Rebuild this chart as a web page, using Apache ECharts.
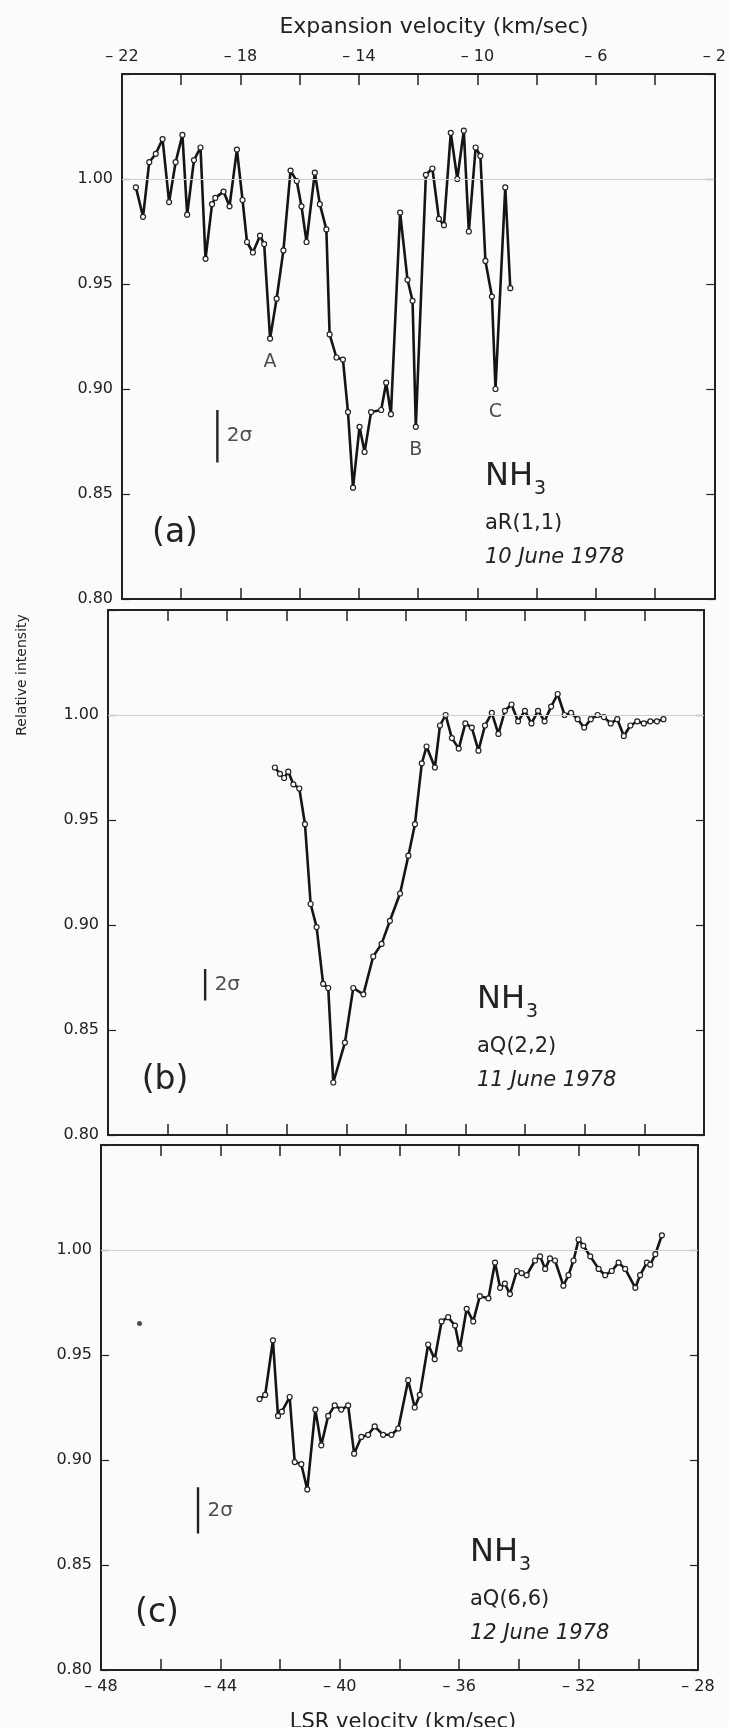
<!DOCTYPE html>
<html>
<head>
<meta charset="utf-8">
<script src="https://cdn.jsdelivr.net/npm/echarts@6/dist/echarts.min.js"></script>
<style>
  html, body { margin: 0; padding: 0; background: #fbfbfa; overflow: hidden; }
  #main { width: 729px; height: 1727px; }
</style>
</head>
<body>
<div id="main"></div>
<script>
// LSR velocity (km/sec) and relative intensity, one pair of arrays per panel
var aVel = [-47.53,-47.29,-47.08,-46.86,-46.63,-46.41,-46.19,-45.96,-45.80,-45.57,-45.35,-45.18,-44.96,-44.85,-44.57,-44.37,-44.12,-43.93,-43.78,-43.58,-43.34,-43.20,-43.00,-42.78,-42.55,-42.31,-42.10,-41.94,-41.77,-41.49,-41.32,-41.10,-40.99,-40.76,-40.54,-40.37,-40.20,-39.98,-39.81,-39.59,-39.25,-39.08,-38.92,-38.61,-38.36,-38.19,-38.08,-37.74,-37.52,-37.30,-37.13,-36.90,-36.68,-36.46,-36.29,-36.06,-35.90,-35.73,-35.51,-35.39,-35.06,-34.89];
var aInt = [0.996,0.982,1.008,1.012,1.019,0.989,1.008,1.021,0.983,1.009,1.015,0.962,0.988,0.991,0.994,0.987,1.014,0.990,0.970,0.965,0.973,0.969,0.924,0.943,0.966,1.004,0.999,0.987,0.970,1.003,0.988,0.976,0.926,0.915,0.914,0.889,0.853,0.882,0.870,0.889,0.890,0.903,0.888,0.984,0.952,0.942,0.882,1.002,1.005,0.981,0.978,1.022,1.000,1.023,0.975,1.015,1.011,0.961,0.944,0.900,0.996,0.948];

var bVel = [-42.40,-42.23,-42.09,-41.95,-41.78,-41.58,-41.39,-41.20,-41.00,-40.78,-40.61,-40.44,-40.05,-39.77,-39.43,-39.10,-38.82,-38.54,-38.20,-37.92,-37.70,-37.47,-37.31,-37.03,-36.86,-36.67,-36.46,-36.23,-36.01,-35.79,-35.57,-35.35,-35.12,-34.90,-34.68,-34.46,-34.24,-34.01,-33.79,-33.57,-33.35,-33.13,-32.91,-32.68,-32.46,-32.24,-32.02,-31.80,-31.57,-31.36,-31.13,-30.91,-30.69,-30.47,-30.24,-30.02,-29.80,-29.58,-29.36];
var bInt = [0.975,0.972,0.970,0.973,0.967,0.965,0.948,0.910,0.899,0.872,0.870,0.825,0.844,0.870,0.867,0.885,0.891,0.902,0.915,0.933,0.948,0.977,0.985,0.975,0.995,1.000,0.989,0.984,0.996,0.994,0.983,0.995,1.001,0.991,1.002,1.005,0.997,1.002,0.996,1.002,0.997,1.004,1.010,1.000,1.001,0.998,0.994,0.998,1.000,0.999,0.996,0.998,0.990,0.995,0.997,0.996,0.997,0.997,0.998];

var cVel = [-42.69,-42.50,-42.24,-42.07,-41.94,-41.68,-41.51,-41.29,-41.09,-40.82,-40.62,-40.39,-40.17,-39.95,-39.72,-39.52,-39.28,-39.05,-38.83,-38.55,-38.27,-38.04,-37.71,-37.49,-37.32,-37.04,-36.82,-36.59,-36.37,-36.14,-35.98,-35.75,-35.53,-35.31,-35.02,-34.80,-34.63,-34.47,-34.30,-34.07,-33.91,-33.74,-33.46,-33.29,-33.12,-32.96,-32.79,-32.51,-32.34,-32.17,-32.00,-31.84,-31.61,-31.33,-31.11,-30.89,-30.66,-30.44,-30.10,-29.94,-29.71,-29.60,-29.43,-29.21];
var cInt = [0.929,0.931,0.957,0.921,0.923,0.930,0.899,0.898,0.886,0.924,0.907,0.921,0.926,0.924,0.926,0.903,0.911,0.912,0.916,0.912,0.912,0.915,0.938,0.925,0.931,0.955,0.948,0.966,0.968,0.964,0.953,0.972,0.966,0.978,0.977,0.994,0.982,0.984,0.979,0.990,0.989,0.988,0.995,0.997,0.991,0.996,0.995,0.983,0.988,0.995,1.005,1.002,0.997,0.991,0.988,0.990,0.994,0.991,0.982,0.988,0.994,0.993,0.998,1.007];
var cStray = [[-46.71, 0.965]];

// labelled absorption features in panel (a)
var featNames = ['A', 'B', 'C'];
var featVel = [-43.00, -38.08, -35.39];
var featInt = [0.924, 0.882, 0.900];

// 2 sigma bars: velocity, low, high (one per panel)
var sigVel = [-44.78, -44.74, -44.75];
var sigLo = [0.865, 0.864, 0.865];
var sigHi = [0.890, 0.879, 0.887];

var lsrTicks = [-48, -44, -40, -36, -32, -28];
var expTicks = [-22, -18, -14, -10, -6, -2];

var FONT = '"DejaVu Sans", Lato, sans-serif';
var INK = '#222222';

function pairs(xs, ys) {
    var out = [];
    for (var i = 0; i < xs.length; i++) out.push([xs[i], ys[i]]);
    return out;
}
function dashNum(v) { return '\u2013 ' + Math.abs(Math.round(v)); }

var grids = [
    { left: 122, top: 74, width: 594, height: 525 },
    { left: 108, top: 610, width: 596, height: 525 },
    { left: 101, top: 1145, width: 597, height: 525 }
];

function xAx(g, pos, min, max, labels) {
    return {
        type: 'value', gridIndex: g, position: pos, min: min, max: max, interval: 2,
        axisLine: { onZero: false, lineStyle: { color: INK, width: 2 } },
        axisTick: { inside: true, length: 11, lineStyle: { color: INK, width: 1.5 } },
        splitLine: { show: false },
        axisLabel: {
            show: !!labels, margin: 9, color: INK, fontFamily: FONT, fontSize: 16,
            formatter: function (v) {
                return labels && labels.indexOf(Math.round(v)) >= 0 ? dashNum(v) : '';
            }
        }
    };
}
function yAx(g, pos, labels) {
    return {
        type: 'value', gridIndex: g, position: pos, min: 0.80, max: 1.05, interval: 0.05,
        axisLine: { onZero: false, lineStyle: { color: INK, width: 2 } },
        axisTick: { inside: true, length: 8, lineStyle: { color: INK, width: 1.2 } },
        splitLine: { show: false },
        axisLabel: {
            show: labels, margin: 9, color: INK, fontFamily: FONT, fontSize: 16,
            formatter: function (v) { return v > 1.001 ? '' : v.toFixed(2); }
        }
    };
}

var xAxes = [
    xAx(0, 'bottom', -48, -28),
    xAx(0, 'top', -22, -2, expTicks),
    xAx(1, 'bottom', -48, -28),
    xAx(1, 'top', -48, -28),
    xAx(2, 'bottom', -48, -28, lsrTicks),
    xAx(2, 'top', -48, -28)
];
var yAxes = [];
for (var g = 0; g < 3; g++) {
    yAxes.push(yAx(g, 'left', true));
    yAxes.push(yAx(g, 'right', false));
}

var panels = [pairs(aVel, aInt), pairs(bVel, bInt), pairs(cVel, cInt)];
var series = [];
panels.forEach(function (d, i) {
    series.push({
        type: 'line', xAxisIndex: 2 * i, yAxisIndex: 2 * i, data: d,
        symbol: 'circle', symbolSize: 5, showSymbol: true,
        itemStyle: { color: '#ffffff', borderColor: INK, borderWidth: 1.2 },
        lineStyle: { color: '#151515', width: 2.6 },
        markLine: {
            silent: true, symbol: 'none', label: { show: false },
            lineStyle: { color: '#cfcfcf', width: 1, type: 'solid' },
            data: [{ yAxis: 1.0 }]
        },
        z: 3
    });
    // 2 sigma scale bar
    series.push({
        type: 'line', xAxisIndex: 2 * i, yAxisIndex: 2 * i, symbol: 'none',
        data: [[sigVel[i], sigLo[i]], [sigVel[i], sigHi[i]]],
        lineStyle: { color: INK, width: 2.4 }
    });
    series.push({
        type: 'scatter', xAxisIndex: 2 * i, yAxisIndex: 2 * i, symbolSize: 1,
        itemStyle: { color: 'rgba(0,0,0,0)' },
        data: [[sigVel[i], (sigLo[i] + sigHi[i]) / 2]],
        label: {
            show: true, position: 'right', distance: 9, formatter: '2\u03c3',
            color: INK, fontFamily: FONT, fontSize: 20
        }
    });
});

series.push({
    type: 'scatter', xAxisIndex: 0, yAxisIndex: 0, symbolSize: 1,
    itemStyle: { color: 'rgba(0,0,0,0)' },
    data: featVel.map(function (v, i) { return [v, featInt[i], featNames[i]]; }),
    label: {
        show: true, position: 'bottom', distance: 13, color: INK, fontFamily: FONT, fontSize: 19,
        formatter: function (p) { return p.value[2]; }
    }
});
series.push({
    type: 'scatter', xAxisIndex: 4, yAxisIndex: 4, symbolSize: 5,
    itemStyle: { color: INK }, data: cStray
});

function txt(x, y, s, size, extra) {
    extra = extra || {};
    var st = { text: s, x: 0, y: 0, fill: INK, font: (extra.italic ? 'italic ' : '') + size + 'px ' + FONT,
        textAlign: extra.align || 'left', textVerticalAlign: extra.valign || 'middle' };
    return { type: 'text', x: x, y: y, rotation: extra.rot || 0, style: st, z: 10 };
}

var labelsBlock = [
    { x: 485, y: 477, line: 'aR(1,1)', date: '10 June 1978', tag: '(a)', tx: 175, ty: 533 },
    { x: 477, y: 1000, line: 'aQ(2,2)', date: '11 June 1978', tag: '(b)', tx: 165, ty: 1080 },
    { x: 470, y: 1553, line: 'aQ(6,6)', date: '12 June 1978', tag: '(c)', tx: 157, ty: 1613 }
];
var graphic = [];
labelsBlock.forEach(function (b) {
    graphic.push(txt(b.x, b.y, 'NH', 32));
    graphic.push(txt(b.x + 49, b.y + 12, '3', 19));
    graphic.push(txt(b.x, b.y + 47, b.line, 21));
    graphic.push(txt(b.x, b.y + 81, b.date, 21, { italic: true }));
    graphic.push(txt(b.tx, b.ty, b.tag, 33, { align: 'center' }));
});
// axis titles (bottom one runs off the lower edge, as in the scan)
graphic.push(txt(434, 27, 'Expansion velocity (km/sec)', 22, { align: 'center' }));
graphic.push(txt(403, 1712, 'LSR velocity (km/sec)', 21, { align: 'center', valign: 'top' }));
graphic.push(txt(22, 675, 'Relative intensity', 14, { align: 'center', rot: Math.PI / 2 }));

echarts.init(document.getElementById('main')).setOption({
    animation: false,
    backgroundColor: '#fbfbfa',
    grid: grids,
    xAxis: xAxes,
    yAxis: yAxes,
    series: series,
    graphic: graphic
});
</script>
</body>
</html>
